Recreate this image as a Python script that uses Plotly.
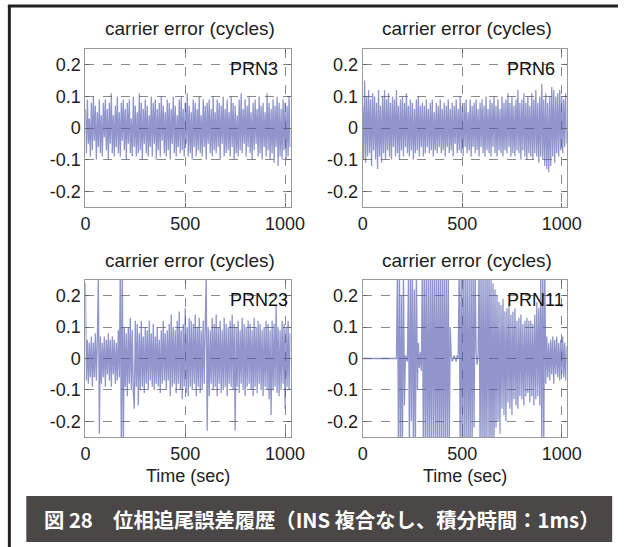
import plotly.graph_objects as go

W, H = 633, 547
STEP = 5  # seconds between samples

# ---------- data (carrier error, cycles) ----------
prn3 = [
 .06,-.08,.09,-.05,.03,-.09,.08,-.07,.10,-.04,.07,-.10,.05,-.06,.09,-.08,.04,-.09,.08,-.03,
 .09,-.07,.06,-.10,.08,-.05,.11,-.08,.04,-.09,.07,-.06,.10,-.08,.05,-.09,.08,-.04,.09,-.07,
 .06,-.10,.08,-.05,.09,-.08,.03,-.09,.10,-.06,.07,-.09,.05,-.08,.11,-.07,.08,-.10,.06,-.05,
 .09,-.08,.07,-.09,.04,-.06,.10,-.09,.08,-.05,.09,-.10,.06,-.07,.08,-.09,.10,-.04,.07,-.08,
 .05,-.09,.09,-.07,.08,-.10,.06,-.05,.10,-.08,.07,-.09,.04,-.06,.09,-.08,.10,-.07,.06,-.09,
 .08,-.05,.11,-.09,.07,-.08,.05,-.10,.09,-.06,.08,-.09,.06,-.07,.10,-.08,.04,-.09,.09,-.06,
 .07,-.10,.08,-.05,.09,-.08,.06,-.09,.10,-.07,.05,-.08,.09,-.06,.08,-.10,.07,-.05,.10,-.09,
 .06,-.08,.09,-.07,.05,-.09,.10,-.06,.08,-.10,.07,-.08,.04,-.09,.09,-.07,.11,-.08,.06,-.05,
 .09,-.09,.07,-.06,.10,-.08,.05,-.10,.08,-.07,.09,-.05,.06,-.09,.10,-.08,.07,-.10,.08,-.06,
 .05,-.09,.11,-.07,.08,-.10,.06,-.08,.09,-.11,.07,-.06,.10,-.12,.08,-.09,.06,-.10,.09,-.07,
 .08,-.10,.07,-.09,.10,-.06,
]

prn6 = [
 .07,-.10,.15,-.11,.10,-.09,.12,-.08,.09,-.12,.11,-.07,.10,-.10,.08,-.13,.12,-.09,.07,-.11,
 .10,-.08,.12,-.10,.09,-.07,.11,-.09,.08,-.10,.10,-.06,.09,-.09,.12,-.08,.07,-.10,.09,-.07,
 .10,-.09,.08,-.06,.11,-.08,.07,-.09,.09,-.07,.08,-.10,.06,-.08,.09,-.07,.10,-.09,.07,-.06,
 .08,-.09,.07,-.08,.09,-.06,.06,-.08,.08,-.07,.09,-.09,.05,-.07,.08,-.08,.07,-.06,.09,-.08,
 .06,-.07,.08,-.09,.07,-.06,.09,-.08,.06,-.07,.08,-.09,.07,-.05,.09,-.08,.06,-.07,.10,-.08,
 .07,-.09,.08,-.06,.09,-.08,.05,-.07,.09,-.09,.07,-.06,.08,-.08,.09,-.07,.06,-.09,.08,-.06,
 .09,-.08,.07,-.09,.10,-.07,.06,-.08,.09,-.09,.08,-.06,.10,-.08,.07,-.09,.09,-.07,.06,-.08,
 .10,-.09,.08,-.07,.09,-.08,.11,-.06,.08,-.09,.10,-.08,.07,-.09,.09,-.07,.12,-.08,.08,-.10,
 .09,-.07,.11,-.09,.08,-.10,.10,-.08,.07,-.09,.11,-.10,.09,-.08,.12,-.09,.08,-.11,.10,-.09,
 .14,-.10,.09,-.12,.11,-.13,.08,-.14,.10,-.12,.13,-.09,.12,-.11,.10,-.08,.11,-.09,.12,-.07,
 .10,-.08,.09,-.06,.11,-.05,
]

prn23 = [
 .24,-.07,.06,-.08,.05,-.06,.07,-.09,.05,-.06,.08,-.07,.06,.26,-.24,.07,-.08,.05,-.06,.07,
 -.09,.06,-.05,.08,-.07,.06,-.09,.07,-.05,.06,-.08,.05,-.07,.09,-.06,.30,-.30,.30,-.30,.10,
 -.09,.08,-.12,.10,-.08,.13,-.10,.09,-.11,-.16,.12,-.09,.11,-.15,.08,-.10,.12,-.09,.07,-.11,
 .10,-.08,.09,-.10,.12,-.07,.08,-.09,.11,-.10,.07,-.08,.10,-.09,.06,-.11,.09,-.08,.12,-.07,
 .08,-.10,.09,-.07,.11,-.12,.14,-.09,.10,-.08,.09,-.11,.12,-.08,.15,-.10,.09,-.13,.11,-.09,
 .16,-.11,.10,-.12,.13,-.09,.12,-.10,.11,-.08,.14,-.12,.10,-.09,.13,-.11,.09,-.10,.12,-.08,
 .11,.26,-.23,.10,-.12,.09,-.08,.13,-.10,.11,-.09,.14,-.12,.10,-.08,.12,-.11,.09,-.10,.13,
 -.09,.11,-.12,.10,-.08,.12,-.09,.14,-.10,.11,-.23,.10,-.09,.12,-.11,.09,-.08,.13,-.10,.11,
 -.12,.10,-.09,.12,-.08,.11,-.10,.09,-.12,.13,-.09,.10,-.11,.12,-.08,.11,-.10,.09,-.12,.10,
 -.09,.12,-.10,.11,-.13,.09,-.18,.12,-.10,.11,-.09,.17,-.11,.10,-.12,.09,-.10,.12,-.08,.11,
 -.16,.10,-.09,.12,-.10,.08,
]

prn11 = [
 0,0,0,0,0,0,0,0,0,0,0,0,0,0,0,0,0,0,0,0,
 0,0,0,0,0,0,0,0,0,0,0,0,0,0,0,.30,-.30,.28,-.30,.20,
 -.30,.30,-.15,.01,0,-.01,.25,-.30,.30,-.20,.30,-.30,.22,-.30,.30,-.10,.05,-.03,.02,-.04,
 .30,-.30,.30,-.28,.30,-.30,.25,-.30,.30,-.30,.30,-.25,.30,-.30,.28,-.30,.30,-.30,.30,-.30,
 .30,-.30,.30,-.30,.30,-.30,.30,-.30,.10,.01,-.01,0,.01,0,-.01,.01,0,.30,-.30,.30,
 -.30,.30,-.28,.30,-.30,.30,-.30,.25,-.30,.30,-.30,.30,-.22,.30,.02,-.02,.01,.30,-.30,.30,
 -.30,.30,-.30,.28,-.30,.30,-.25,.30,-.30,.26,-.30,.24,-.28,.22,-.22,.20,-.20,.18,-.24,.17,
 -.16,.19,-.18,.15,-.20,.16,-.14,.17,-.16,.14,-.18,.15,-.13,.16,-.15,.12,-.16,.13,-.12,.14,
 -.13,.11,-.15,.12,-.12,.13,-.11,.12,-.14,.12,-.12,.11,-.15,.14,-.13,.18,-.12,.16,-.15,.30,
 -.30,.30,-.28,.30,-.08,.07,-.06,.05,-.07,.06,-.05,.07,-.08,.06,-.05,.07,-.06,.05,-.07,.06,
 -.05,.07,-.06,.05,-.07,.04,
]

panels = [
    # name, values, x-range max, domain px (x0, x1, y0, y1)
    ("PRN3", prn3, 1028, (83, 295, 49, 207)),
    ("PRN6", prn6, 1025, (369.3, 580, 49, 207)),
    ("PRN23", prn23, 1028, (83, 295, 280, 437)),
    ("PRN11", prn11, 1025, (369.3, 580, 280, 437)),
]

y_ticks = [-0.2, -0.1, 0, 0.1, 0.2]
y_tick_text = ["-0.2", "-0.1", "0", "0.1", "0.2"]
x_ticks = [0, 500, 1000]
x_tick_text = ["0", "500", "1000"]

FONT = "Liberation Sans, Arial, sans-serif"
fig = go.Figure()
annotations = []
shapes = []

for i, (name, vals, xmax, (px0, px1, py0, py1)) in enumerate(panels):
    n = i + 1
    xa = "x" if n == 1 else f"x{n}"
    ya = "y" if n == 1 else f"y{n}"
    t = [k * STEP for k in range(len(vals))]
    fig.add_trace(go.Scatter(
        x=t, y=vals, mode="lines", xaxis=xa, yaxis=ya,
        line=dict(color="#4c56ad", width=1.3), opacity=0.62,
        showlegend=False, hoverinfo="skip"))
    axis_common = dict(
        showline=True, mirror="ticks", linecolor="#9a9a9a", linewidth=1,
        ticks="inside", ticklen=4, tickcolor="#666",
        showgrid=True, gridcolor="#8a8a8a", griddash="dash", gridwidth=1,
        zeroline=False, tickfont=dict(family=FONT, size=18, color="#222"),
        fixedrange=True)
    xkey = "xaxis" if n == 1 else f"xaxis{n}"
    ykey = "yaxis" if n == 1 else f"yaxis{n}"
    fig.update_layout(**{
        xkey: dict(domain=[px0 / W, px1 / W], range=[0, xmax], anchor=ya,
                   tickvals=x_ticks, ticktext=x_tick_text, **axis_common),
        ykey: dict(domain=[1 - py1 / H, 1 - py0 / H], range=[-0.25, 0.25], anchor=xa,
                   tickvals=y_ticks, ticktext=y_tick_text, **axis_common),
    })
    cx = (px0 + px1) / 2
    annotations.append(dict(
        text="carrier error (cycles)", x=(cx + 2) / W, y=1 - (py0 - 20) / H,
        xref="paper", yref="paper", xanchor="center", yanchor="middle",
        showarrow=False, font=dict(family=FONT, size=19, color="#222")))
    annotations.append(dict(
        text=name, x=(px0 + 147) / W, y=1 - (py0 + 20) / H,
        xref="paper", yref="paper", xanchor="left", yanchor="middle",
        showarrow=False, font=dict(family=FONT, size=18, color="#111")))
    if py0 > 200:
        annotations.append(dict(
            text="Time (sec)", x=cx / W, y=1 - 476 / H,
            xref="paper", yref="paper", xanchor="center", yanchor="middle",
            showarrow=False, font=dict(family=FONT, size=18, color="#222")))

# caption bar
shapes.append(dict(type="rect", xref="paper", yref="paper",
                   x0=22 / W, x1=627 / W, y0=1 - 542 / H, y1=1 - 496 / H,
                   fillcolor="#4b4747", line=dict(width=0), layer="below"))
annotations.append(dict(
    text="<b>図 28　位相追尾誤差履歴（INS 複合なし、積分時間：1ms）</b>",
    x=327 / W, y=1 - 519 / H, xref="paper", yref="paper",
    xanchor="center", yanchor="middle", showarrow=False,
    font=dict(family="Noto Sans CJK JP", size=20.3, color="#ffffff")))

# outer frame (top and left)
shapes.append(dict(type="line", xref="paper", yref="paper",
                   x0=3 / W, x1=1, y0=1 - 6 / H, y1=1 - 6 / H,
                   line=dict(color="#222", width=3)))
shapes.append(dict(type="line", xref="paper", yref="paper",
                   x0=4.5 / W, x1=4.5 / W, y0=0, y1=1 - 5 / H,
                   line=dict(color="#222", width=3)))

fig.update_layout(
    width=W, height=H, margin=dict(l=0, r=0, t=0, b=0),
    paper_bgcolor="white", plot_bgcolor="white",
    annotations=annotations, shapes=shapes)

fig.write_html("out.html")
